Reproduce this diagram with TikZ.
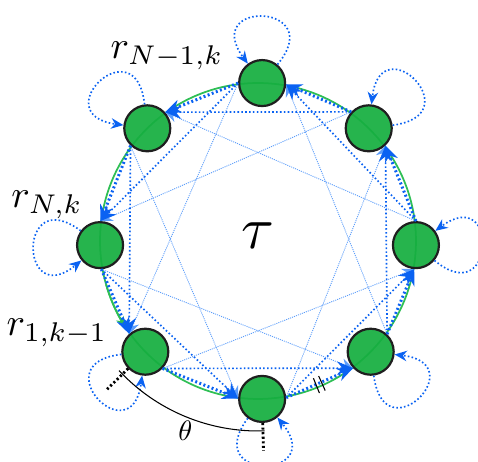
\documentclass[tikz,border=0pt]{standalone}
\definecolor{agent}{HTML}{16AE40}
\definecolor{ring}{HTML}{2FBF55}
\definecolor{flow}{HTML}{0A62F2}
\definecolor{flowlight}{HTML}{5C9DFA}
\usetikzlibrary{arrows.meta}

\begin{document}
\begin{tikzpicture}[x=0.02cm, y=0.02cm,
  agentnode/.style={circle, draw=black!88, line width=1.25pt, fill=agent, fill opacity=0.93, minimum size=0.92cm, inner sep=0pt},
  ringline/.style={ring, line width=1pt},
  hop1/.style={flow, line width=1.7pt, dash pattern=on 1.1pt off 1.4pt, -{Stealth[length=9pt,width=7.5pt]}},
  hop2/.style={flow, line width=0.95pt, dash pattern=on 0.9pt off 1.3pt, -{Stealth[length=9pt,width=7.5pt]}},
  hop3/.style={flowlight, line width=0.5pt, dash pattern=on 0.6pt off 0.6pt, -{Stealth[length=7pt,width=6pt]}},
  selfloop/.style={flow, line width=0.95pt, dash pattern=on 0.9pt off 1.3pt, -{Stealth[length=7pt,width=6pt]}},
  radial/.style={black, line width=1.6pt, dash pattern=on 1.2pt off 1.4pt},
  lbl/.style={scale=2.2, inner sep=0pt}]

\useasboundingbox (-258,-221) rectangle (220,241);
\def\angs{{88.5,134.5,181.5,224.5,271.5,315.5,358.5,45.5}}

% ring through the agents
\draw[ringline] (0,0) circle (3.16cm);
\draw[ringline, -{Stealth[length=6pt,width=5pt]}] (196:158) arc[start angle=196, end angle=213, radius=3.16cm];

% agents
\foreach \a [count=\i from 0] in {88.5,134.5,181.5,224.5,271.5,315.5,358.5,45.5}
  \node[agentnode] (n\i) at (\a:158) {};

% messages to the next three agents
\foreach \s/\sty in {3/hop3,2/hop2,1/hop1} {
  \foreach \i in {0,...,7} {
    \pgfmathtruncatemacro\j{mod(\i+\s,8)}
    \pgfmathsetmacro\ao{\angs[\i]+92}
    \pgfmathsetmacro\ai{\angs[\j]-92}
    \draw[\sty] (n\i.\ao) -- (n\j.\ai);
  }
}

% self loops
\foreach \a [count=\i from 0] in {88.5,134.5,181.5,224.5,271.5,315.5,358.5,45.5}
  \draw[selfloop] (n\i) to[out=\a-38, in=\a+38, distance=1.6cm] (n\i);

% angle between neighbours
\coordinate (t3) at (224.5:213);
\coordinate (t4) at (271.5:210);
\draw[radial] (n3) -- (t3);
\draw[radial] (n4) -- (t4);
\draw[black, line width=0.6pt] (223:190) arc[start angle=223, end angle=272, radius=3.8cm];
\node[scale=1.6] (theta) at (249:203) {$\theta$};
\foreach \b in {292,294.2} \draw[black, line width=0.6pt] (\b:148) -- (\b:164);

% labels
\node[lbl] (rNm1) at (-91,185) {$r_{N-1,k}$};
\node[lbl] (rN) at (-211,36) {$r_{N,k}$};
\node[lbl] (r1) at (-201,-92) {$r_{1,k-1}$};
\node[scale=3.4] (tau) at (0,5) {$\tau$};
\end{tikzpicture}
\end{document}
